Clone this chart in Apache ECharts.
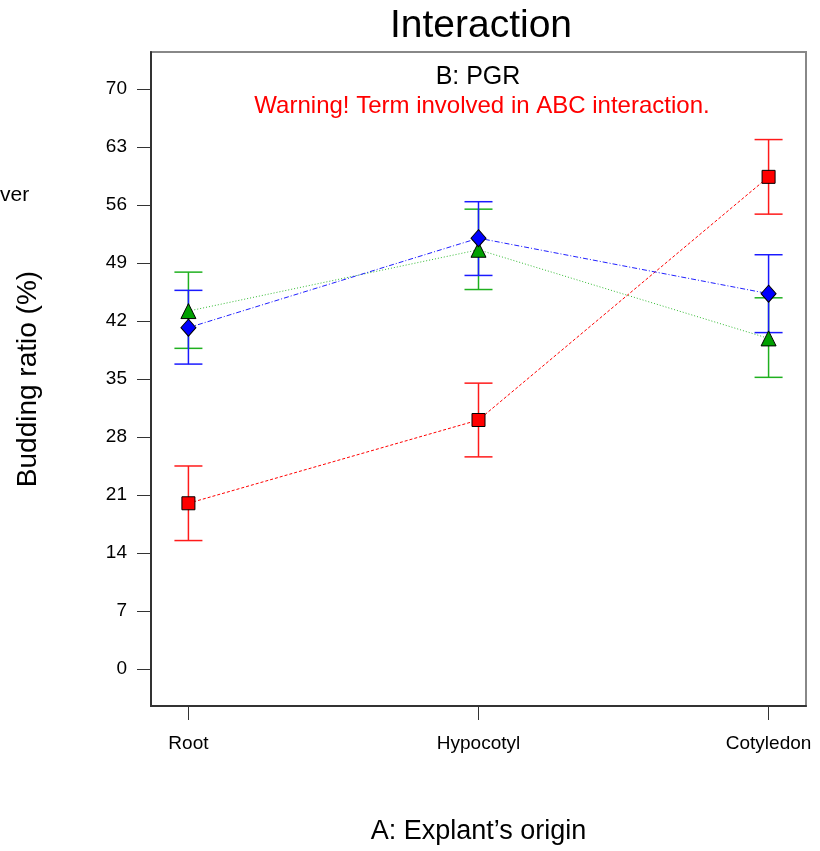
<!DOCTYPE html>
<html>
<head>
<meta charset="utf-8">
<script src="https://cdn.jsdelivr.net/npm/echarts@6/dist/echarts.min.js"></script>
<style>
  html, body { margin: 0; padding: 0; background: #ffffff; }
  #chart { width: 820px; height: 851px; }
</style>
</head>
<body>
<div id="chart"></div>
<script>
// Explant origin categories (x positions 0, 1, 2)
const categories = ['Root', 'Hypocotyl', 'Cotyledon'];
const yTicks = [0, 7, 14, 21, 28, 35, 42, 49, 56, 63, 70];

// PGR level means with interval bounds
const redMean = [20.0, 30.05, 59.4];
const redLow = [15.5, 25.6, 54.9];
const redHigh = [24.5, 34.5, 63.9];

const greenMean = [43.2, 50.6, 39.9];
const greenLow = [38.7, 45.8, 35.2];
const greenHigh = [47.9, 55.5, 44.8];

const blueMean = [41.2, 52.0, 45.3];
const blueLow = [36.8, 47.5, 40.6];
const blueHigh = [45.7, 56.4, 50.0];

const FONT = 'Liberation Sans, Arial, sans-serif';

function pts(mean) {
  return mean.map((v, i) => [i, v]);
}
function bars(low, high) {
  return low.map((v, i) => [i, v, high[i]]);
}

function errorSeries(low, high, color) {
  return {
    type: 'custom',
    silent: true,
    z: 2,
    data: bars(low, high),
    renderItem: function (params, api) {
      const x = api.value(0);
      const lo = api.coord([x, api.value(1)]);
      const hi = api.coord([x, api.value(2)]);
      const cap = 14;
      const st = { stroke: color, lineWidth: 1.5 };
      return {
        type: 'group',
        children: [
          { type: 'line', shape: { x1: lo[0], y1: lo[1], x2: hi[0], y2: hi[1] }, style: st },
          { type: 'line', shape: { x1: lo[0] - cap, y1: lo[1], x2: lo[0] + cap, y2: lo[1] }, style: st },
          { type: 'line', shape: { x1: hi[0] - cap, y1: hi[1], x2: hi[0] + cap, y2: hi[1] }, style: st }
        ]
      };
    }
  };
}

function meanSeries(mean, lineColor, fill, symbol, size, dash) {
  return {
    type: 'line',
    z: 3,
    data: pts(mean),
    symbol: symbol,
    symbolSize: size,
    lineStyle: { color: lineColor, width: 1, type: dash },
    itemStyle: { color: fill, borderColor: '#000', borderWidth: 1, opacity: 1 },
    emphasis: { disabled: true },
    animation: false
  };
}

const chart = echarts.init(document.getElementById('chart'), null, { renderer: 'canvas' });

chart.setOption({
  animation: false,
  backgroundColor: '#ffffff',
  title: [
    { text: 'Interaction', left: 476, top: 2, textAlign: 'center',
      textStyle: { fontFamily: FONT, fontSize: 39, fontWeight: 'normal', color: '#000' } },
    { text: 'B: PGR', left: 473, top: 60, textAlign: 'center',
      textStyle: { fontFamily: FONT, fontSize: 25, fontWeight: 'normal', color: '#000' } },
    { text: 'Warning! Term involved in ABC interaction.', left: 477, top: 89, textAlign: 'center',
      textStyle: { fontFamily: FONT, fontSize: 24, fontWeight: 'normal', color: '#ff0000' } }
  ],
  graphic: [
    { type: 'text', left: 0, top: 185,
      style: { text: 'ver', font: '21px ' + FONT, fill: '#000' } }
  ],
  grid: {
    left: 151, right: 14, top: 52, bottom: 145,
    show: true, borderColor: '#888', borderWidth: 2, backgroundColor: 'transparent'
  },
  xAxis: {
    type: 'value',
    min: -0.129, max: 2.129,
    name: 'A: Explant\u2019s origin',
    nameLocation: 'middle', nameGap: 112,
    nameTextStyle: { fontFamily: FONT, fontSize: 27, color: '#000' },
    axisLine: { show: true, onZero: false, lineStyle: { color: '#333', width: 2 } },
    axisTick: { show: true, customValues: [0, 1, 2], length: 14, lineStyle: { color: '#333', width: 1 } },
    axisLabel: {
      customValues: [0, 1, 2],
      formatter: v => categories[Math.round(v)],
      fontFamily: FONT, fontSize: 19, color: '#000', margin: 28
    },
    splitLine: { show: false }
  },
  yAxis: {
    type: 'value',
    min: -4.47, max: 74.47,
    name: 'Budding ratio (%)',
    nameLocation: 'middle', nameGap: 109, nameRotate: 90,
    nameTextStyle: { fontFamily: FONT, fontSize: 28, color: '#000' },
    axisLine: { show: true, onZero: false, lineStyle: { color: '#333', width: 2 } },
    axisTick: { show: true, customValues: yTicks, length: 14, lineStyle: { color: '#333', width: 1 } },
    axisLabel: {
      customValues: yTicks,
      fontFamily: FONT, fontSize: 19, color: '#000', margin: 24
    },
    splitLine: { show: false }
  },
  series: [
    errorSeries(redLow, redHigh, '#ff1a1a'),
    errorSeries(greenLow, greenHigh, '#1fb01f'),
    errorSeries(blueLow, blueHigh, '#1a1aff'),
    meanSeries(redMean, '#ff0000', '#ff0000', 'rect', 13, [3, 2]),
    meanSeries(greenMean, '#33bb33', '#00a000', 'triangle', 15, [1, 2]),
    meanSeries(blueMean, '#2020ff', '#0000ff', 'diamond', [15, 17], [5, 2, 1, 2])
  ]
});
</script>
</body>
</html>
